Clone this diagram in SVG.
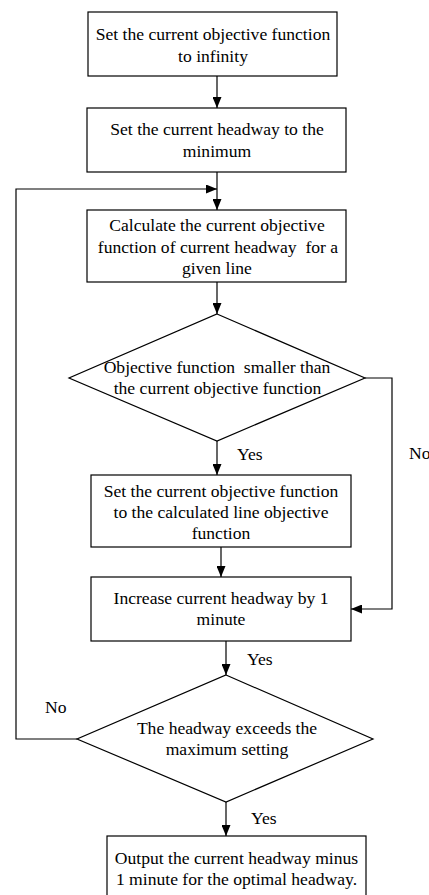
<svg xmlns="http://www.w3.org/2000/svg" width="429" height="895" viewBox="0 0 429 895">
<style>
.box{fill:#fff;stroke:#000;stroke-width:1.2}
.ln{fill:none;stroke:#000;stroke-width:1.2}
text{font-family:"Liberation Serif","Times New Roman",serif;font-size:17.6px;fill:#000}
.c{text-anchor:middle}
</style>
<defs>
<marker id="ah" viewBox="0 0 11 9" refX="11" refY="4.5" markerWidth="11" markerHeight="9" markerUnits="userSpaceOnUse" orient="auto">
<path d="M0,0 L11,4.5 L0,9 Z" fill="#000"/>
</marker>
</defs>
<rect width="429" height="895" fill="#fff"/>
<g id="connectors">
<line class="ln" x1="217" y1="76" x2="217" y2="108" marker-end="url(#ah)"/>
<line class="ln" x1="217" y1="172" x2="217" y2="210" marker-end="url(#ah)"/>
<line class="ln" x1="217" y1="282" x2="217" y2="314" marker-end="url(#ah)"/>
<line class="ln" x1="217" y1="441" x2="217" y2="475" marker-end="url(#ah)"/>
<polyline class="ln" points="365,378 392,378 392,609 351,609" marker-end="url(#ah)"/>
<line class="ln" x1="221" y1="547" x2="221" y2="577" marker-end="url(#ah)"/>
<line class="ln" x1="226" y1="641" x2="226" y2="675" marker-end="url(#ah)"/>
<line class="ln" x1="226" y1="802" x2="226" y2="836" marker-end="url(#ah)"/>
<polyline class="ln" points="77,739 16,739 16,189 217,189" marker-end="url(#ah)"/>
<text x="237" y="460">Yes</text>
<text x="409" y="459">No</text>
<text x="247" y="665">Yes</text>
<text x="45" y="713">No</text>
<text x="251" y="824">Yes</text>
</g>
<g id="n1">
<rect class="box" x="88" y="12" width="249" height="64"/>
<text class="c" x="213" y="39.5">Set the current objective function</text>
<text class="c" x="213" y="61.5">to infinity</text>
</g>
<g id="n2">
<rect class="box" x="87" y="108" width="259" height="64"/>
<text class="c" x="217" y="135">Set the current headway to the</text>
<text class="c" x="217" y="156.5">minimum</text>
</g>
<g id="n3">
<rect class="box" x="87" y="210" width="259" height="72"/>
<text class="c" x="217" y="231">Calculate the current objective</text>
<text class="c" x="218" y="252.5" xml:space="preserve">function of current headway  for a</text>
<text class="c" x="217" y="274">given line</text>
</g>
<g id="n4">
<polygon class="box" points="217,314 365,378 217,441 69,378"/>
<text class="c" x="217" y="372.5" xml:space="preserve">Objective function  smaller than</text>
<text class="c" x="217.5" y="393.5">the current objective function</text>
</g>
<g id="n5">
<rect class="box" x="91" y="475" width="260" height="72"/>
<text class="c" x="221" y="496.5">Set the current objective function</text>
<text class="c" x="221" y="518">to the calculated line objective</text>
<text class="c" x="221" y="539">function</text>
</g>
<g id="n6">
<rect class="box" x="91" y="577" width="260" height="64"/>
<text class="c" x="221" y="603.5">Increase current headway by 1</text>
<text class="c" x="221" y="625">minute</text>
</g>
<g id="n7">
<polygon class="box" points="226,675 373,739 226,802 77,739"/>
<text class="c" x="227" y="733.5">The headway exceeds the</text>
<text class="c" x="227" y="755">maximum setting</text>
</g>
<g id="n8">
<rect class="box" x="107" y="836" width="259" height="70"/>
<text class="c" x="236.5" y="863.5">Output the current headway minus</text>
<text class="c" x="236.5" y="885">1 minute for the optimal headway.</text>
</g>
</svg>
